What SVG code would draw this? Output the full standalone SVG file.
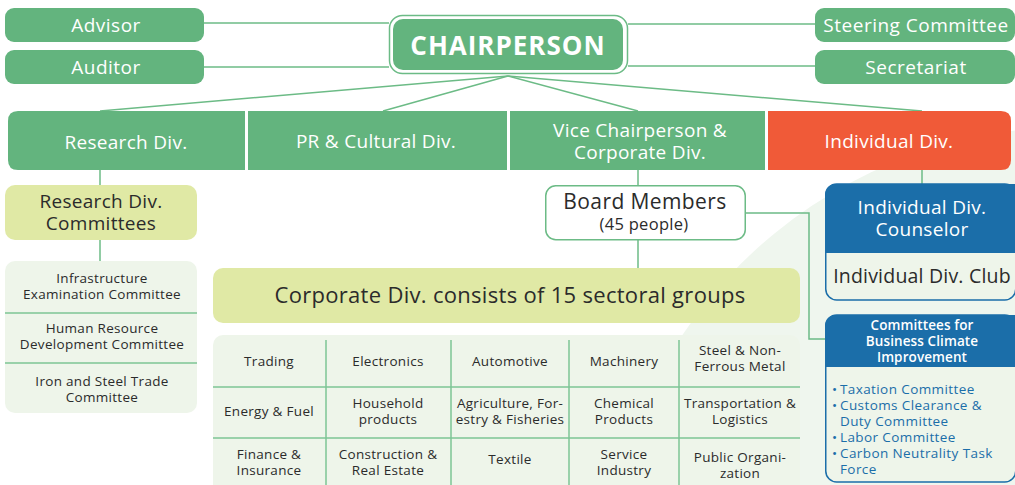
<svg xmlns="http://www.w3.org/2000/svg" width="1015" height="485" viewBox="0 0 1015 485">
<style>
text{font-family:"Open Sans","Noto Sans",sans-serif;text-anchor:middle}
.w{fill:#ffffff}
.d{fill:#2b2b2b}
.b{fill:#1b6ea9}
.g{fill:#63b47e}
.top{font-size:19px;letter-spacing:0.5px}
.div{font-size:19px;letter-spacing:0.3px}
.sm{font-size:13.5px;letter-spacing:0.3px}
.li{font-size:13.5px;letter-spacing:0.4px;fill:#1b6ea9;text-anchor:start}
.ln{stroke:#6cbb86;stroke-width:1.5;fill:none}
.sep{stroke:#7cc494;stroke-width:1.5}
</style>
<rect width="1015" height="485" fill="#ffffff"/>
<circle cx="1072" cy="596" r="469" fill="#eff6ee"/>
<g id="connectors" class="ln">
<line x1="204" y1="23" x2="389" y2="23"/>
<line x1="204" y1="67" x2="389" y2="67"/>
<line x1="628" y1="24" x2="815" y2="24"/>
<line x1="628" y1="66" x2="815" y2="66"/>
<line x1="508" y1="76" x2="100" y2="111"/>
<line x1="508" y1="76" x2="383" y2="111"/>
<line x1="508" y1="76" x2="638" y2="111"/>
<line x1="508" y1="76" x2="922" y2="111"/>
<line x1="100" y1="170" x2="100" y2="185"/>
<line x1="100" y1="240" x2="100" y2="261"/>
<line x1="638" y1="170" x2="638" y2="185"/>
<line x1="638" y1="240" x2="638" y2="268"/>
<polyline points="746,213 809,213 809,339 826,339"/>
<line x1="922" y1="170" x2="922" y2="184"/>
</g>
<g id="advisor"><rect x="5" y="8" width="199" height="34" rx="9" class="g"/><text x="106" y="32" class="top w">Advisor</text></g>
<g id="auditor"><rect x="5" y="50" width="199" height="34" rx="9" class="g"/><text x="106" y="74" class="top w">Auditor</text></g>
<g id="steering"><rect x="815" y="8" width="200" height="34" rx="9" class="g"/><text x="916" y="32" class="top w">Steering Committee</text></g>
<g id="secretariat"><rect x="815" y="50" width="200" height="34" rx="9" class="g"/><text x="916" y="74" class="top w">Secretariat</text></g>
<g id="chairperson">
<rect x="389.5" y="15.5" width="238" height="58" rx="13" fill="#ffffff" stroke="#6cbb86" stroke-width="1.5"/>
<rect x="393" y="19" width="230" height="51" rx="10" class="g"/>
<text x="508" y="55" font-size="26" font-weight="700" letter-spacing="1" class="w">CHAIRPERSON</text>
</g>
<g id="research-div"><path d="M18,111 H245 V170 H18 Q8,170 8,160 V121 Q8,111 18,111 Z" class="g"/><text x="126" y="149" class="div w">Research Div.</text></g>
<g id="pr-div"><rect x="248" y="111" width="259" height="59" class="g"/><text x="376" y="148" class="div w">PR &amp; Cultural Div.</text></g>
<g id="vice-div"><rect x="510" y="111" width="255" height="59" class="g"/><text x="640" y="137" class="div w">Vice Chairperson &amp;</text><text x="640" y="159" class="div w">Corporate Div.</text></g>
<g id="individual-div"><path d="M768,111 H1001 Q1011,111 1011,121 V160 Q1011,170 1001,170 H768 Z" fill="#f05a38"/><text x="889" y="148" class="div w">Individual Div.</text></g>
<g id="research-committees"><rect x="5" y="185" width="192" height="55" rx="10" fill="#e0e9a5"/><text x="101" y="208" class="div d">Research Div.</text><text x="101" y="230" class="div d">Committees</text></g>
<g id="research-list">
<rect x="5" y="261" width="192" height="152" rx="10" fill="#eef5ea"/>
<line x1="5" y1="313" x2="197" y2="313" class="sep"/>
<line x1="5" y1="363" x2="197" y2="363" class="sep"/>
<text x="102" y="283" class="sm d">Infrastructure</text>
<text x="102" y="299" class="sm d">Examination Committee</text>
<text x="102" y="333" class="sm d">Human Resource</text>
<text x="102" y="349" class="sm d">Development Committee</text>
<text x="102" y="386" class="sm d">Iron and Steel Trade</text>
<text x="102" y="402" class="sm d">Committee</text>
</g>
<g id="board-members"><rect x="545.75" y="185.75" width="199.5" height="54" rx="10" fill="#ffffff" stroke="#6cbb86" stroke-width="1.5"/><text x="645" y="209" font-size="21" letter-spacing="0.4" class="d">Board Members</text><text x="644" y="230" font-size="16.5" letter-spacing="0.3" class="d">(45 people)</text></g>
<g id="corporate"><rect x="213" y="268" width="587" height="55" rx="10" fill="#e0e9a5"/><text x="510" y="303" font-size="22" letter-spacing="0.3" class="d">Corporate Div. consists of 15 sectoral groups</text></g>
<g id="sector-table">
<rect x="213" y="335" width="587" height="160" rx="10" fill="#eef5ea"/>
<g class="sep">
<line x1="326" y1="340" x2="326" y2="485"/>
<line x1="451" y1="340" x2="451" y2="485"/>
<line x1="569" y1="340" x2="569" y2="485"/>
<line x1="679" y1="340" x2="679" y2="485"/>
<line x1="213" y1="387" x2="800" y2="387"/>
<line x1="213" y1="438" x2="800" y2="438"/>
</g>
<text x="269" y="366" class="sm d">Trading</text>
<text x="388" y="366" class="sm d">Electronics</text>
<text x="510" y="366" class="sm d">Automotive</text>
<text x="624" y="366" class="sm d">Machinery</text>
<text x="740" y="355" class="sm d">Steel &amp; Non-</text>
<text x="740" y="371" class="sm d">Ferrous Metal</text>
<text x="269" y="416" class="sm d">Energy &amp; Fuel</text>
<text x="388" y="408" class="sm d">Household</text>
<text x="388" y="424" class="sm d">products</text>
<text x="510" y="408" class="sm d">Agriculture, For-</text>
<text x="510" y="424" class="sm d">estry &amp; Fisheries</text>
<text x="624" y="408" class="sm d">Chemical</text>
<text x="624" y="424" class="sm d">Products</text>
<text x="740" y="408" class="sm d">Transportation &amp;</text>
<text x="740" y="424" class="sm d">Logistics</text>
<text x="269" y="459" class="sm d">Finance &amp;</text>
<text x="269" y="475" class="sm d">Insurance</text>
<text x="388" y="459" class="sm d">Construction &amp;</text>
<text x="388" y="475" class="sm d">Real Estate</text>
<text x="510" y="464" class="sm d">Textile</text>
<text x="624" y="459" class="sm d">Service</text>
<text x="624" y="475" class="sm d">Industry</text>
<text x="740" y="462" class="sm d">Public Organi-</text>
<text x="740" y="478" class="sm d">zation</text>
</g>
<g id="individual-counselor">
<rect x="825.75" y="184" width="190" height="116" rx="11" fill="#eef5ea" stroke="#1b6ea9" stroke-width="1.5"/>
<path d="M837,184 H1015 V253 H825 V196 Q825,184 837,184 Z" fill="#1b6ea9"/>
<text x="922" y="214" font-size="19" letter-spacing="0.3" class="w">Individual Div.</text>
<text x="922" y="236" font-size="19" letter-spacing="0.3" class="w">Counselor</text>
<text x="922" y="283" font-size="19.5" letter-spacing="0.2" class="d">Individual Div. Club</text>
</g>
<g id="business-climate">
<rect x="825.75" y="315" width="190" height="167" rx="11" fill="#eef5ea" stroke="#1b6ea9" stroke-width="1.5"/>
<path d="M837,315 H1015 V367 H825 V327 Q825,315 837,315 Z" fill="#1b6ea9"/>
<text x="922" y="330" font-size="13.5" font-weight="600" letter-spacing="0.1" class="w">Committees for</text>
<text x="922" y="346" font-size="13.5" font-weight="600" letter-spacing="0.1" class="w">Business Climate</text>
<text x="922" y="362" font-size="13.5" font-weight="600" letter-spacing="0.1" class="w">Improvement</text>
<text x="832" y="394" class="li">•<tspan x="840">Taxation Committee</tspan></text>
<text x="832" y="410" class="li">•<tspan x="840">Customs Clearance &amp;</tspan></text>
<text x="840" y="426" class="li">Duty Committee</text>
<text x="832" y="442" class="li">•<tspan x="840">Labor Committee</tspan></text>
<text x="832" y="458" class="li">•<tspan x="840">Carbon Neutrality Task</tspan></text>
<text x="840" y="474" class="li">Force</text>
</g>
</svg>
